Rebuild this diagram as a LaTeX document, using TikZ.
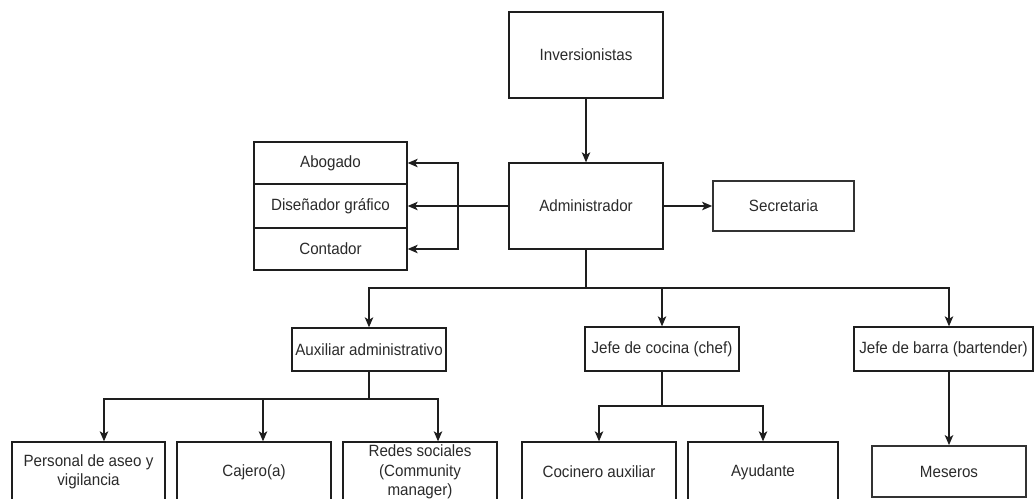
\documentclass[tikz,border=0pt]{standalone}
\usepackage{fontspec}
\setmainfont{Liberation Sans}[FakeStretch=0.93]
\usetikzlibrary{arrows.meta}
\definecolor{ink}{HTML}{1E1E1E}
\definecolor{txt}{HTML}{2A2A2A}
\tikzset{
  box/.style={draw=ink, line width=1.35pt, rectangle, inner sep=1pt, align=center,
    text=txt, font=\fontsize{16.3}{19.5}\selectfont},
  heavybox/.style={box, line width=1.8pt, draw=black!80},
  arr/.style={draw=ink, line width=1.35pt, -{Stealth[length=10pt,width=8.5pt,inset=2.5pt]}},
  ln/.style={draw=ink, line width=1.35pt},
}
\begin{document}
\begin{tikzpicture}[x=1pt,y=-1pt]
\useasboundingbox (0,0) rectangle (1035,498);

% top of the chart
\node[box, minimum width=154, minimum height=86] (inv) at (586,55) {Inversionistas};
\node[box, minimum width=154, minimum height=86] (adm) at (586,206) {Administrador};
\node[heavybox, minimum width=141, minimum height=50] (sec) at (783.5,206) {Secretaria};

% advisers stacked on the left
\node[box, minimum width=153, minimum height=42] (abo) at (330.5,163) {Abogado};
\node[box, minimum width=153, minimum height=44] (dis) at (330.5,206) {Diseñador gráfico};
\node[box, minimum width=153, minimum height=42] (con) at (330.5,249) {Contador};

% department heads
\node[box, minimum width=154, minimum height=43] (aux) at (369,349.5) {Auxiliar administrativo};
\node[box, minimum width=154, minimum height=44] (coc) at (662,349) {Jefe de cocina (chef)};
\node[box, minimum width=179, minimum height=44] (bar) at (943.5,349) {Jefe de barra (bartender)};

% staff
\node[box, minimum width=153, minimum height=60] (per) at (88.5,472) {Personal de aseo y\\vigilancia};
\node[box, minimum width=154, minimum height=60] (caj) at (254,472) {Cajero(a)};
\node[box, minimum width=154, minimum height=60] (red) at (420,472) {Redes sociales\\(Community\\manager)};
\node[box, minimum width=154, minimum height=60] (cin) at (599,472) {Cocinero auxiliar};
\node[box, minimum width=150, minimum height=60] (ayu) at (763,472) {Ayudante};
\node[heavybox, minimum width=154, minimum height=51] (mes) at (949,471.5) {Meseros};

% junction points
\coordinate (lj) at (458,206);
\coordinate (bus) at (586,288);
\coordinate (auxbus) at (369,399);
\coordinate (cocbus) at (662,406);

% connectors
\draw[arr] (inv.south) -- (adm.north);
\draw[arr] (adm.east) -- (sec.west);
\draw[arr] (adm.west) -- (dis.east);
\draw[arr] (lj) |- (abo.east);
\draw[arr] (lj) |- (con.east);

\draw[ln] (adm.south) -- (bus);
\draw[arr] (bus) -| (aux.north);
\draw[arr] (bus) -| (coc.north);
\draw[arr] (bus) -| (mes.north |- bar.north);

\draw[ln] (aux.south) -- (auxbus);
\draw[arr] (auxbus) -| ([xshift=15.5pt]per.north);
\draw[arr] (auxbus) -| ([xshift=9pt]caj.north);
\draw[arr] (auxbus) -| ([xshift=18pt]red.north);

\draw[ln] (coc.south) -- (cocbus);
\draw[arr] (cocbus) -| (cin.north);
\draw[arr] (cocbus) -| (ayu.north);

\draw[arr] (bar.south -| mes.north) -- (mes.north);
\end{tikzpicture}
\end{document}
